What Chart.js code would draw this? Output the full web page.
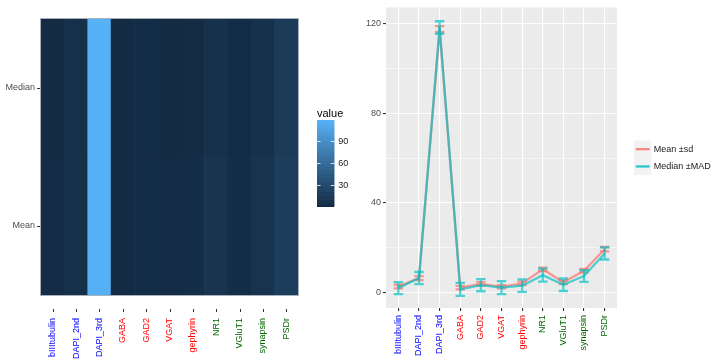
<!DOCTYPE html>
<html>
<head>
<meta charset="utf-8">
<script src="https://cdn.jsdelivr.net/npm/chart.js@4.4.1/dist/chart.umd.min.js"></script>
<style>
  html, body { margin: 0; padding: 0; background: #ffffff; }
  #wrap { position: relative; width: 720px; height: 360px; }
  canvas { position: absolute; top: 0; }
  #heat { left: 0; }
  #line { left: 360px; }
</style>
</head>
<body>
<div id="wrap">
  <canvas id="heat" width="360" height="360"></canvas>
  <canvas id="line" width="360" height="360"></canvas>
</div>
<script>
// ---------------- data ----------------
const categories = ['bIIItubulin','DAPI_2nd','DAPI_3rd','GABA','GAD2','VGAT','gephyrin','NR1','VGluT1','synapsin','PSDr'];
const labelColors = ['#0000FF','#0000FF','#0000FF','#FF0000','#FF0000','#FF0000','#FF0000','#006400','#006400','#006400','#006400'];
const rows = ['Mean','Median'];
const meanVals   = [2.5, 6.3, 117.7, 2.0, 3.7, 2.4, 3.9, 10.2, 4.4, 9.6, 19.2];
const sdVals     = [0.8, 0.9, 1.3, 0.8, 0.8, 0.7, 0.8, 0.8, 0.8, 0.8, 1.0];
const medianVals = [1.8, 6.3, 118.4, 1.2, 3.1, 2.0, 2.9, 7.6, 3.3, 7.2, 17.3];
const madVals    = [2.7, 2.7, 2.8, 2.9, 2.7, 2.9, 2.8, 2.9, 2.8, 2.6, 2.7];
const yTicks = [0, 40, 80, 120];
const yMinorTicks = [20, 60, 100];
const colorbarTicks = [30, 60, 90];
const seriesNames = ['Mean \u00b1sd', 'Median \u00b1MAD'];

// ---------------- colour scale (ggplot2 default, Lab interpolation) ----------------
const LOW = '#132B43', HIGH = '#56B1F7';
function hex2rgb(h){ return [1,3,5].map(i => parseInt(h.substr(i,2),16)); }
function lin(c){ c/=255; return c<=0.04045 ? c/12.92 : Math.pow((c+0.055)/1.055,2.4); }
function delin(c){ const v = c<=0.0031308 ? 12.92*c : 1.055*Math.pow(c,1/2.4)-0.055; return Math.max(0,Math.min(255,Math.round(v*255))); }
const WX=0.95047, WY=1, WZ=1.08883;
function rgb2lab(rgb){
  const [r,g,b] = rgb.map(lin);
  const X = r*0.4124+g*0.3576+b*0.1805, Y = r*0.2126+g*0.7152+b*0.0722, Z = r*0.0193+g*0.1192+b*0.9505;
  const f = t => t>0.008856 ? Math.cbrt(t) : 7.787*t+16/116;
  const fx=f(X/WX), fy=f(Y/WY), fz=f(Z/WZ);
  return [116*fy-16, 500*(fx-fy), 200*(fy-fz)];
}
function lab2rgb(lab){
  const [L,a,b] = lab;
  const fy=(L+16)/116, fx=fy+a/500, fz=fy-b/200;
  const fi = t => t*t*t>0.008856 ? t*t*t : (t-16/116)/7.787;
  const X=fi(fx)*WX, Y=fi(fy)*WY, Z=fi(fz)*WZ;
  const r = X*3.2406+Y*-1.5372+Z*-0.4986, g = X*-0.9689+Y*1.8758+Z*0.0415, bb = X*0.0557+Y*-0.2040+Z*1.0570;
  return [delin(r),delin(g),delin(bb)];
}
const LAB_LO = rgb2lab(hex2rgb(LOW)), LAB_HI = rgb2lab(hex2rgb(HIGH));
const allVals = meanVals.concat(medianVals);
const vMin = Math.min(...allVals), vMax = Math.max(...allVals);
function fillColor(v){
  const t = Math.max(0, Math.min(1, (v - vMin)/(vMax - vMin)));
  const lab = LAB_LO.map((c,i) => c + (LAB_HI[i]-c)*t);
  const [r,g,b] = lab2rgb(lab);
  return `rgb(${r},${g},${b})`;
}

const FONT = "'Liberation Sans', Arial, Helvetica, sans-serif";
const AXIS_GREY = '#4D4D4D';

// ---------------- heatmap ----------------
const heatPlugin = {
  id: 'heatExtras',
  beforeDatasetsDraw(chart){
    const {ctx, chartArea:a} = chart;
    ctx.save();
    ctx.fillStyle = '#EBEBEB';
    ctx.fillRect(a.left-1, a.top-1, a.right-a.left+2, a.bottom-a.top+2);
    ctx.restore();
  },
  afterDraw(chart){
    const {ctx, chartArea:a} = chart;
    const xs = chart.scales.x;
    ctx.save();
    // panel outline
    ctx.strokeStyle = 'rgba(160,170,182,0.9)';
    ctx.lineWidth = 1;
    ctx.strokeRect(a.left-0.5, a.top-0.5, a.right-a.left+1, a.bottom-a.top+1);
    // x tick marks (offset below panel, as in reference)
    ctx.strokeStyle = '#333333';
    categories.forEach((c,i) => {
      const x = Math.round(xs.getPixelForTick(i)) + 0.5;
      ctx.beginPath(); ctx.moveTo(x, 309); ctx.lineTo(x, 312); ctx.stroke();
    });
    // colour bar legend
    const bx = 317, bw = 17.3, by0 = 120, bh = 86.4;
    const N = 120;
    for (let k = 0; k < N; k++){
      const v = vMin + (vMax - vMin)*(k+0.5)/N;
      ctx.fillStyle = fillColor(v);
      const y1 = by0 + bh - (k+1)*bh/N;
      ctx.fillRect(bx, y1, bw, bh/N + 0.6);
    }
    ctx.strokeStyle = 'rgba(255,255,255,0.8)';
    ctx.lineWidth = 1;
    ctx.font = `9px ${FONT}`;
    ctx.fillStyle = '#1A1A1A';
    ctx.textBaseline = 'middle';
    ctx.textAlign = 'left';
    colorbarTicks.forEach(t => {
      const y = Math.round(by0 + bh - (t - vMin)/(vMax - vMin)*bh) + 0.5;
      ctx.beginPath(); ctx.moveTo(bx, y); ctx.lineTo(bx + 3.5, y); ctx.stroke();
      ctx.beginPath(); ctx.moveTo(bx + bw - 3.5, y); ctx.lineTo(bx + bw, y); ctx.stroke();
      ctx.fillText(String(t), bx + bw + 4, y);
    });
    ctx.font = `11px ${FONT}`;
    ctx.textBaseline = 'alphabetic';
    ctx.fillStyle = '#000000';
    ctx.fillText('value', bx, 116.5);
    ctx.restore();
  }
};

new Chart(document.getElementById('heat'), {
  type: 'bar',
  data: {
    labels: categories,
    datasets: rows.map((r, ri) => {
      const vals = ri === 0 ? meanVals : medianVals;
      return {
        label: r,
        data: vals.map(() => [ri, ri + 1]),
        backgroundColor: vals.map(fillColor),
        borderWidth: 0,
        barPercentage: 1,
        categoryPercentage: 1,
        grouped: false
      };
    })
  },
  options: {
    responsive: false,
    animation: false,
    devicePixelRatio: 1,
    layout: { padding: { left: 0, top: 19, right: 62, bottom: 0 } },
    plugins: { legend: { display: false }, tooltip: { enabled: false } },
    scales: {
      x: {
        type: 'category',
        offset: true,
        grid: { display: false },
        border: { display: false },
        ticks: {
          autoSkip: false, minRotation: 90, maxRotation: 90, padding: 15,
          color: c => labelColors[c.index],
          font: { size: 9, family: FONT }
        },
        afterFit: s => { s.height = 65; }
      },
      y: {
        type: 'linear', min: 0, max: 2,
        afterBuildTicks: s => { s.ticks = rows.map((r, i) => ({ value: i + 0.5 })); },
        ticks: {
          callback: v => rows[Math.floor(v)],
          color: AXIS_GREY, padding: 2,
          font: { size: 9, family: FONT }
        },
        grid: { drawOnChartArea: false, tickLength: 4, tickColor: '#333333' },
        border: { display: false },
        afterFit: s => { s.width = 41; }
      }
    }
  },
  plugins: [heatPlugin]
});

// ---------------- line chart with error bars ----------------
const RED = 'rgba(248,118,109,0.72)';
const TEAL = 'rgba(0,191,196,0.68)';
const errs = [sdVals, madVals];
const lineColors = [RED, TEAL];

const linePlugin = {
  id: 'lineExtras',
  beforeDraw(chart){
    const {ctx, chartArea:a} = chart;
    ctx.save();
    ctx.fillStyle = '#EBEBEB';
    ctx.fillRect(a.left, a.top, a.right - a.left, a.bottom - a.top);
    ctx.restore();
  },
  afterDatasetDraw(chart, args){
    const i = args.index;
    const ys = chart.scales.y, xs = chart.scales.x;
    const vals = i === 0 ? meanVals : medianVals;
    const e = errs[i];
    const ctx = chart.ctx;
    ctx.save();
    ctx.strokeStyle = lineColors[i];
    ctx.lineWidth = 2.3;
    ctx.beginPath();
    vals.forEach((v, k) => {
      const x = xs.getPixelForValue(k);
      const yt = ys.getPixelForValue(v + e[k]), yb = ys.getPixelForValue(v - e[k]);
      const hw = 4.7;
      ctx.moveTo(x - hw, yt); ctx.lineTo(x + hw, yt);
      ctx.moveTo(x, yt); ctx.lineTo(x, yb);
      ctx.moveTo(x - hw, yb); ctx.lineTo(x + hw, yb);
    });
    ctx.stroke();
    ctx.restore();
  },
  afterDraw(chart){
    const ctx = chart.ctx;
    ctx.save();
    const kx = 274, kw = 17.3, ky0 = 140.5;
    seriesNames.forEach((n, i) => {
      const ky = ky0 + i * kw;
      ctx.fillStyle = '#F2F2F2';
      ctx.fillRect(kx, ky, kw, kw);
      ctx.strokeStyle = i === 0 ? 'rgba(248,118,109,0.85)' : 'rgba(0,191,196,0.85)';
      ctx.lineWidth = 2.3;
      ctx.beginPath();
      ctx.moveTo(kx + 1.7, ky + kw/2); ctx.lineTo(kx + kw - 1.7, ky + kw/2);
      ctx.stroke();
      ctx.fillStyle = '#1A1A1A';
      ctx.font = `9px ${FONT}`;
      ctx.textBaseline = 'middle';
      ctx.textAlign = 'left';
      ctx.fillText(n, kx + kw + 2.5, ky + kw/2);
    });
    ctx.restore();
  }
};

new Chart(document.getElementById('line'), {
  type: 'line',
  data: {
    datasets: [
      { label: seriesNames[0], data: meanVals.map((v, k) => ({ x: k, y: v })),
        borderColor: RED, borderWidth: 2.3, pointRadius: 0, fill: false, order: 2,
        borderJoinStyle: 'round', tension: 0 },
      { label: seriesNames[1], data: medianVals.map((v, k) => ({ x: k, y: v })),
        borderColor: TEAL, borderWidth: 2.3, pointRadius: 0, fill: false, order: 1,
        borderJoinStyle: 'round', tension: 0 }
    ]
  },
  options: {
    responsive: false,
    animation: false,
    devicePixelRatio: 1,
    layout: { padding: { left: 0, top: 6, right: 103, bottom: 0 } },
    plugins: { legend: { display: false }, tooltip: { enabled: false } },
    scales: {
      x: {
        type: 'linear', min: -0.6, max: categories.length - 1 + 0.6,
        afterBuildTicks: s => { s.ticks = categories.map((c, k) => ({ value: k })); },
        grid: { color: '#FFFFFF', lineWidth: 1.1, tickLength: 3, tickColor: '#333333' },
        border: { display: false },
        ticks: {
          autoSkip: false, minRotation: 90, maxRotation: 90, padding: 4,
          callback: v => categories[v],
          color: c => labelColors[c.index],
          font: { size: 9, family: FONT }
        },
        afterFit: s => { s.height = 52; }
      },
      y: {
        type: 'linear', min: -7.1, max: 127.4,
        afterBuildTicks: s => {
          s.ticks = yTicks.concat(yMinorTicks).sort((a, b) => a - b).map(v => ({ value: v }));
        },
        grid: {
          color: '#FFFFFF',
          lineWidth: c => (c.tick && yTicks.includes(c.tick.value)) ? 1.1 : 0.55,
          tickLength: 3,
          tickColor: c => (c.tick && yTicks.includes(c.tick.value)) ? '#333333' : 'rgba(0,0,0,0)'
        },
        border: { display: false },
        ticks: {
          callback: v => yTicks.includes(v) ? String(v) : '',
          color: AXIS_GREY, padding: 2,
          font: { size: 9, family: FONT }
        },
        afterFit: s => { s.width = 26; }
      }
    }
  },
  plugins: [linePlugin]
});
</script>
</body>
</html>
